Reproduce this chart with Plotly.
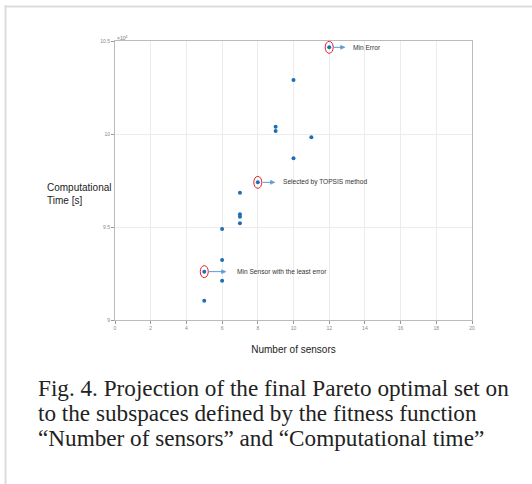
import plotly.graph_objects as go

# Data (x: number of sensors, y: computational time, x10^4 scaled)
sensors = [5, 5, 6, 6, 6, 7, 7, 7, 7, 8, 9, 9, 10, 10, 11, 12]
comp_time = [9.104, 9.260, 9.211, 9.323, 9.489, 9.520, 9.555, 9.568, 9.684,
             9.740, 10.016, 10.039, 9.869, 10.29, 9.982, 10.466]

highlight_x = [12, 8, 5]
highlight_y = [10.466, 9.740, 9.260]
highlight_text = ["Min Error", "Selected by TOPSIS method", "Min Sensor with the least error"]

x_ticks = [0, 2, 4, 6, 8, 10, 12, 14, 16, 18, 20]
y_ticks = [9, 9.5, 10, 10.5]
y_tick_labels = ["9", "9.5", "10", "10.5"]

caption_lines = [
    "Fig. 4. Projection of the final Pareto optimal set on",
    "to the subspaces defined by the fitness function",
    "\u201cNumber of sensors\u201d and \u201cComputational time\u201d",
]

# callout geometry (offsets in axis units from the highlighted point): tail, head, text
callout_offsets = [(0.21, 0.89, 1.22), (0.27, 0.96, 1.30), (0.21, 1.22, 1.73)]

sans = "Liberation Sans, Arial, sans-serif"
serif = "Liberation Serif, Times New Roman, serif"
arrow_color = "#5b9bd5"

# plot area in pixels
L, T, PW, PH = 115, 41, 357, 279
W, H = 532, 484


def px_x(p):
    return (p - L) / PW


def px_y(p):
    return (T + PH - p) / PH


fig = go.Figure()
fig.add_trace(go.Scatter(
    x=sensors, y=comp_time, mode="markers",
    marker=dict(color="#1f6db5", size=4, line=dict(width=0)),
    showlegend=False, hoverinfo="x+y"))

shapes = []
annotations = []
for hx, hy, txt, (o_tail, o_head, o_text) in zip(highlight_x, highlight_y, highlight_text, callout_offsets):
    shapes.append(dict(type="circle", xref="x", yref="y", xsizemode="pixel", ysizemode="pixel",
                       xanchor=hx, yanchor=hy, x0=-4, x1=4, y0=-6, y1=6,
                       line=dict(color="#e02020", width=1)))
    # arrow shaft
    shapes.append(dict(type="line", xref="x", yref="y", x0=hx + o_tail, x1=hx + o_head - 0.12,
                       y0=hy, y1=hy, line=dict(color=arrow_color, width=1)))
    # arrow head
    shapes.append(dict(type="path", xref="x", yref="y", xsizemode="pixel", ysizemode="pixel",
                       xanchor=hx + o_head, yanchor=hy, path="M -4.5,-2 L 0,0 L -4.5,2 Z",
                       fillcolor=arrow_color, line=dict(color=arrow_color, width=0.5)))
    annotations.append(dict(x=hx + o_text, y=hy, xref="x", yref="y", text=txt,
                            showarrow=False, xanchor="left", yanchor="middle",
                            font=dict(family=sans, size=6.6, color="#333333")))

# exponent label
annotations.append(dict(x=0, y=10.5, xref="x", yref="y", text="\u00d710<sup>4</sup>",
                        showarrow=False, xanchor="left", yanchor="bottom", xshift=0, yshift=-2,
                        font=dict(family=sans, size=5, color="#777777")))
# y label
annotations.append(dict(x=px_x(45), y=px_y(180), xref="paper", yref="paper",
                        text="Computational<br>Time [s]",
                        showarrow=False, xanchor="left", yanchor="top", align="left",
                        font=dict(family=sans, size=10, color="#222222")))
# caption, one annotation per line
for i, line in enumerate(caption_lines):
    annotations.append(dict(x=px_x(36), y=px_y(388 + 25 * i), xref="paper", yref="paper",
                            text=line, showarrow=False, xanchor="left", yanchor="middle",
                            font=dict(family=serif, size=23.2, color="#222222")))

border = [
    dict(type="rect", xref="paper", yref="paper", x0=px_x(4.5), x1=px_x(W),
         y0=px_y(7.5), y1=px_y(5.5), line=dict(width=0), fillcolor="#dcdcdc", layer="above"),
    dict(type="rect", xref="paper", yref="paper", x0=px_x(4.5), x1=px_x(6.5),
         y0=px_y(H), y1=px_y(5.5), line=dict(width=0), fillcolor="#dcdcdc", layer="above"),
]

fig.update_layout(
    width=W, height=H,
    margin=dict(l=L, r=W - L - PW, t=T, b=H - T - PH),
    paper_bgcolor="white", plot_bgcolor="white",
    font=dict(family=sans, size=5, color="#888888"),
    xaxis=dict(range=[0, 20], tickvals=x_ticks, showgrid=True, gridcolor="#ececec", gridwidth=1,
               zeroline=False, showline=True, linecolor="#bbbbbb", linewidth=1, mirror=True,
               ticks="outside", ticklen=3, tickcolor="#999999",
               title=dict(text="Number of sensors", font=dict(family=sans, size=10, color="#222222"),
                          standoff=15)),
    yaxis=dict(range=[9, 10.5], tickvals=y_ticks, ticktext=y_tick_labels, showgrid=True,
               gridcolor="#ececec", zeroline=False, showline=True, linecolor="#bbbbbb", linewidth=1,
               mirror=True, ticks="outside", ticklen=3, tickcolor="#999999"),
    shapes=shapes + border,
    annotations=annotations,
)

fig.write_html("out.html", config={"displayModeBar": False},
               post_script="document.body.style.margin='0px';")
